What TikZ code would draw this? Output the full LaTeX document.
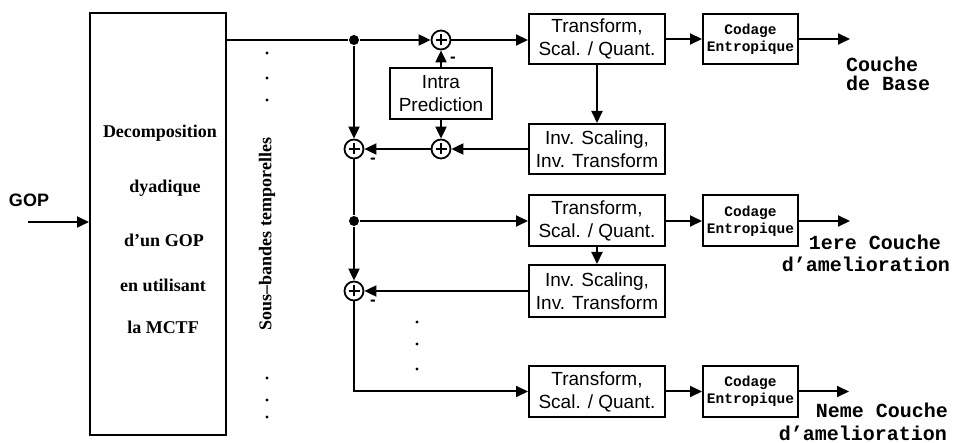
\documentclass[tikz,border=0pt]{standalone}
\usepackage{fontspec}
\setmainfont{Liberation Sans}
\newfontfamily\serifbf{Liberation Serif}
\newfontfamily\monobf{Liberation Mono}
\usetikzlibrary{arrows.meta}
\tikzset{
  arr/.style={-{Triangle[length=12pt,width=11pt]}},
  blk/.style={draw, line width=2pt, minimum width=136pt, minimum height=50pt, inner sep=0pt, align=center, font=\fontsize{19}{23}\selectfont},
  cod/.style={draw, line width=2pt, minimum width=95pt, minimum height=50pt, inner sep=0pt, align=center, font=\monobf\bfseries\fontsize{14.5}{17}\selectfont},
  sumnode/.style={circle, draw, line width=1.8pt, minimum size=19pt, inner sep=0pt,
    path picture={\draw[line width=2.2pt] ([xshift=-5.5pt]path picture bounding box.center) -- ([xshift=5.5pt]path picture bounding box.center);
                  \draw[line width=2.2pt] ([yshift=-5.5pt]path picture bounding box.center) -- ([yshift=5.5pt]path picture bounding box.center);}},
  junc/.style={circle, fill, minimum size=10pt, inner sep=0pt},
  lab/.style={inner sep=0pt, font=\monobf\bfseries\fontsize{20}{20}\selectfont},
  dectxt/.style={inner sep=0pt, font=\serifbf\bfseries\fontsize{18}{18}\selectfont},
  minus/.style={inner sep=0pt, font=\bfseries\fontsize{17}{17}\selectfont},
}
\begin{document}
\begin{tikzpicture}[x=1pt,y=-1pt,line width=2pt]
\useasboundingbox (0,0) rectangle (954,443);
% decomposition box
\node[draw, line width=2pt, minimum width=136pt, minimum height=422pt, inner sep=0pt] (dec) at (158,224) {};
\node[dectxt] (d1) at (160,133) {Decomposition};
\node[dectxt] (d2) at (165,188) {dyadique};
\node[dectxt] (d3) at (164,240) {d’un GOP};
\node[dectxt] (d4) at (163,285) {en utilisant};
\node[dectxt] (d5) at (163,327) {la MCTF};
% GOP input
\node[inner sep=0pt, font=\bfseries\fontsize{18}{18}\selectfont] (gop) at (29,200) {GOP};
\coordinate (gopin) at (28,222);
\draw[arr, line width=1.8pt] (gopin) -- (gopin -| dec.west);
% sous-bandes
\node[dectxt, rotate=90] (sb) at (267,234) {Sous–bandes temporelles};
\foreach \yy in {53,78,100,378,400,417} \fill (267,\yy) circle (1.6pt);
\foreach \yy in {322,344,369} \fill (417,\yy) circle (1.6pt);
% level 1
\node[junc] (j1) at (354,40) {};
\draw[line width=1.6pt] (j1 -| dec.east) -- (j1);
\node[sumnode] (s1) at (441,40) {};
\draw[arr] (j1) -- (s1);
\node[blk] (t1) at (597,39) {Transform,\\Scal. / Quant.};
\draw[arr] (s1) -- (s1 -| t1.west);
\node[cod] (c1) at (750.5,39) {Codage\\Entropique};
\draw[arr] (t1) -- (c1);
\coordinate (o1) at (850,39);
\draw[arr] (c1) -- (o1);
\node[lab, anchor=west] (l1a) at (845,64) {Couche};
\node[lab, anchor=west] (l1b) at (845,83) {de Base};
\node[blk, minimum width=102pt, minimum height=51pt] (ip) at (441,93.5) {Intra\\Prediction};
\draw[arr] (ip) -- (s1);
\node[minus] (m1) at (453,60) {-};
\node[sumnode] (s2) at (441,149) {};
\draw[arr] (ip) -- (s2);
\node[sumnode] (s3) at (354,149) {};
\draw[arr] (s2) -- (s3);
\node[blk] (i1) at (597,149) {Inv. Scaling,\\Inv. Transform};
\draw[arr] (t1) -- (i1);
\draw[arr] (i1) -- (s2);
\draw[arr] (j1) -- (s3);
\node[minus] (m3) at (373,161) {-};
% level 2
\node[junc] (j2) at (354,221) {};
\draw (s3) -- (j2);
\node[blk, minimum height=51pt] (t2) at (597,221) {Transform,\\Scal. / Quant.};
\draw[arr] (j2) -- (t2);
\node[cod, minimum height=51pt] (c2) at (750.5,221) {Codage\\Entropique};
\draw[arr] (t2) -- (c2);
\coordinate (o2) at (850,221);
\draw[arr] (c2) -- (o2);
\node[lab] (l2a) at (875,242) {1ere Couche};
\node[lab] (l2b) at (866,264) {d’amelioration};
\node[blk, minimum height=52pt] (i2) at (597,291) {Inv. Scaling,\\Inv. Transform};
\draw[arr] (t2) -- (i2);
\node[sumnode] (s4) at (354,291) {};
\draw[arr] (i2) -- (s4);
\draw[arr] (j2) -- (s4);
\node[minus] (m4) at (373,303) {-};
% level N
\node[blk, minimum height=51pt] (t3) at (597,391.5) {Transform,\\Scal. / Quant.};
\draw[arr] (s4) |- (t3);
\node[cod, minimum height=51pt] (c3) at (750.5,391.5) {Codage\\Entropique};
\draw[arr] (t3) -- (c3);
\coordinate (o3) at (849,391.5);
\draw[arr] (c3) -- (o3);
\node[lab] (l3a) at (882,410) {Neme Couche};
\node[lab] (l3b) at (863,433) {d’amelioration};
\end{tikzpicture}
\end{document}
